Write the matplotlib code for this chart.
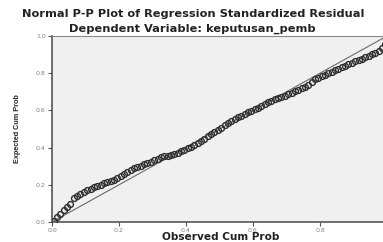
import numpy as np
import matplotlib
matplotlib.use("Agg")
import matplotlib.pyplot as plt

# observed vs expected cumulative probabilities
obs_cum = [0.005, 0.015, 0.025, 0.035, 0.045, 0.055, 0.065, 0.075, 0.085, 0.095,
           0.105, 0.115, 0.125, 0.135, 0.145, 0.155, 0.165, 0.175, 0.185, 0.195,
           0.205, 0.215, 0.225, 0.235, 0.245, 0.255, 0.265, 0.275, 0.285, 0.295,
           0.305, 0.315, 0.325, 0.335, 0.345, 0.355, 0.365, 0.375, 0.385, 0.395,
           0.405, 0.415, 0.425, 0.435, 0.445, 0.455, 0.465, 0.475, 0.485, 0.495,
           0.505, 0.515, 0.525, 0.535, 0.545, 0.555, 0.565, 0.575, 0.585, 0.595,
           0.605, 0.615, 0.625, 0.635, 0.645, 0.655, 0.665, 0.675, 0.685, 0.695,
           0.705, 0.715, 0.725, 0.735, 0.745, 0.755, 0.765, 0.775, 0.785, 0.795,
           0.805, 0.815, 0.825, 0.835, 0.845, 0.855, 0.865, 0.875, 0.885, 0.895,
           0.905, 0.915, 0.925, 0.935, 0.945, 0.955, 0.965, 0.975, 0.985, 0.995]
exp_cum = [0.008, 0.025, 0.045, 0.065, 0.080, 0.095, 0.128, 0.140, 0.152, 0.163,
           0.170, 0.178, 0.186, 0.194, 0.200, 0.207, 0.214, 0.221, 0.228, 0.236,
           0.245, 0.256, 0.270, 0.281, 0.288, 0.295, 0.303, 0.311, 0.319, 0.325,
           0.333, 0.341, 0.348, 0.353, 0.357, 0.361, 0.365, 0.372, 0.380, 0.388,
           0.396, 0.405, 0.415, 0.426, 0.436, 0.448, 0.460, 0.471, 0.482, 0.494,
           0.508, 0.522, 0.533, 0.543, 0.553, 0.562, 0.572, 0.581, 0.589, 0.597,
           0.606, 0.615, 0.623, 0.634, 0.643, 0.652, 0.659, 0.666, 0.672, 0.680,
           0.688, 0.696, 0.703, 0.711, 0.719, 0.727, 0.735, 0.752, 0.768, 0.776,
           0.783, 0.791, 0.800, 0.808, 0.816, 0.823, 0.831, 0.839, 0.847, 0.855,
           0.863, 0.870, 0.878, 0.885, 0.893, 0.901, 0.910, 0.920, 0.935, 0.955]
ticks = [0.0, 0.2, 0.4, 0.6, 0.8, 1.0]
y_tick_labels = ['0.0', '0.2', '0.4', '0.6', '0.8', '1.0']
x_tick_labels = ['0.0', '0.2', '0.4', '0.6', '0.8', '']   # 1.0 falls off the right edge

plt.rcParams['font.family'] = ['DejaVu Sans']

fig = plt.figure(figsize=(3.83, 2.42), dpi=100)
ax = fig.add_axes([52/383, 20/242, 335/383, 186/242])
ax.set_facecolor('#f0f0f0')

# reference diagonal
ax.plot([0, 1], [0, 1], color='#6a6a6a', lw=0.8, zorder=2)
ax.plot(obs_cum, exp_cum, 'o', ms=4.2, mfc='none', mec='#2e2e2e', mew=1.0, zorder=3)

ax.set_xlim(0, 1)
ax.set_ylim(0, 1)
ax.set_xticks(ticks)
ax.set_yticks(ticks)
ax.set_xticklabels(x_tick_labels)
ax.set_yticklabels(y_tick_labels)
ax.tick_params(direction='out', length=3, width=0.8, color='#555555',
               labelsize=4.5, labelcolor='#808080', pad=1.5)
for s in ax.spines.values():
    s.set_color('#888888')
    s.set_linewidth(0.8)
ax.spines['left'].set_color('#555555')
ax.spines['left'].set_linewidth(1.2)
ax.spines['bottom'].set_color('#555555')
ax.spines['bottom'].set_linewidth(1.2)

fig.text(193/383, 1 - 14/242, 'Normal P-P Plot of Regression Standardized Residual',
         ha='center', va='center', fontsize=8.2, fontweight='bold', color='#222222')
fig.text(192/383, 1 - 29/242, 'Dependent Variable: keputusan_pemb',
         ha='center', va='center', fontsize=8.2, fontweight='bold', color='#222222')
fig.text(221/383, 1 - 237.5/242, 'Observed Cum Prob',
         ha='center', va='center', fontsize=7.6, fontweight='bold', color='#222222')
fig.text(18/383, 1 - 129/242, 'Expected Cum Prob', rotation=90,
         ha='center', va='center', fontsize=5.2, fontweight='bold', color='#222222',
         family=['Liberation Sans'])

fig.savefig('out.png', dpi=100)
